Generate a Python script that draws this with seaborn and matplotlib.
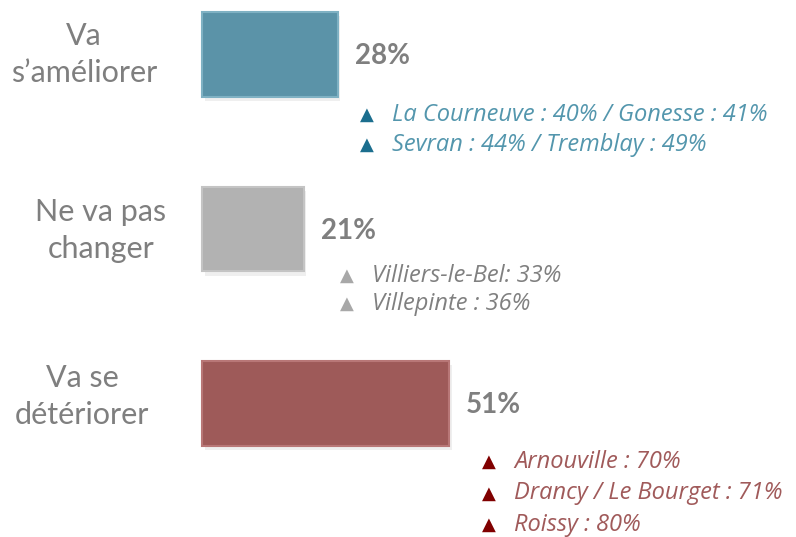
import matplotlib
matplotlib.use("Agg")
import matplotlib.pyplot as plt
import matplotlib.patheffects as pe
import pandas as pd
import seaborn as sns

# Chart data
categories = ["Va\ns\u2019améliorer", "Ne va pas\nchanger", "Va se\ndétériorer"]
values = [28, 21, 51]
details = [
    ["La Courneuve : 40% / Gonesse : 41%", "Sevran : 44% / Tremblay : 49%"],
    ["Villiers-le-Bel: 33%", "Villepinte : 36%"],
    ["Arnouville : 70%", "Drancy / Le Bourget : 71%", "Roissy : 80%"],
]

bar_colors = ["#5b93a8", "#b2b2b2", "#9e5a59"]
edge_colors = ["#7fb1c3", "#c4c4c4", "#b87777"]
bullet_colors = ["#1b6e8e", "#a8a8a8", "#800000"]
detail_colors = ["#5396ad", "#808080", "#a05a5a"]
LABEL_GREY = "#7f7f7f"

df = pd.DataFrame({"category": categories, "value": values})

sns.set_style("white")
plt.rcParams["font.family"] = ["Lato", "DejaVu Sans"]

fig = plt.figure(figsize=(7.96, 5.37), dpi=100)
ax = fig.add_axes([0, 0, 1, 1])

sns.barplot(
    data=df,
    x="value",
    y="category",
    hue="category",
    palette=bar_colors,
    saturation=1,
    width=0.487,
    legend=False,
    ax=ax,
)

# pixel layout -> data units
PX_PER_PCT = 4.84
ROW_PX = 174.5
ax.set_xlim(-202 / PX_PER_PCT, (796 - 202) / PX_PER_PCT)
ax.set_ylim((537 - 54.5) / ROW_PX, -54.5 / ROW_PX)
ax.axis("off")

shadow = [
    pe.SimplePatchShadow(offset=(2, -3), shadow_rgbFace="#999999", alpha=0.15),
    pe.Normal(),
]
for patch, ec in zip(ax.patches, edge_colors):
    patch.set_edgecolor(ec)
    patch.set_linewidth(1.5)
    patch.set_path_effects(shadow)

label_x = [-24.4, -20.9, -24.8]
label_dy = [0.0, 0.01, -0.04]
bullet_off = [6.1, 9.0, 8.3]
detail_start = [0.347, 0.269, 0.335]
detail_step = [0.172, 0.162, 0.18]

for i, (cat, val) in enumerate(zip(categories, values)):
    ax.text(label_x[i], i + label_dy[i], cat, ha="center", va="center",
            fontsize=22, color=LABEL_GREY, linespacing=1.4)
    ax.text(val + 3.6, i + 0.01, f"{val}%", ha="left", va="center",
            fontsize=20, fontweight="bold", color=LABEL_GREY)
    bx = val + bullet_off[i]
    for j, line in enumerate(details[i]):
        y = i + detail_start[i] + j * detail_step[i]
        ax.text(bx, y, "\u25b2", ha="center", va="center", fontsize=13,
                color=bullet_colors[i], family="DejaVu Sans")
        ax.text(bx + 5.2, y, line, ha="left", va="center", fontsize=17,
                style="italic", color=detail_colors[i], family="Open Sans")

fig.savefig("out.png", dpi=100)
